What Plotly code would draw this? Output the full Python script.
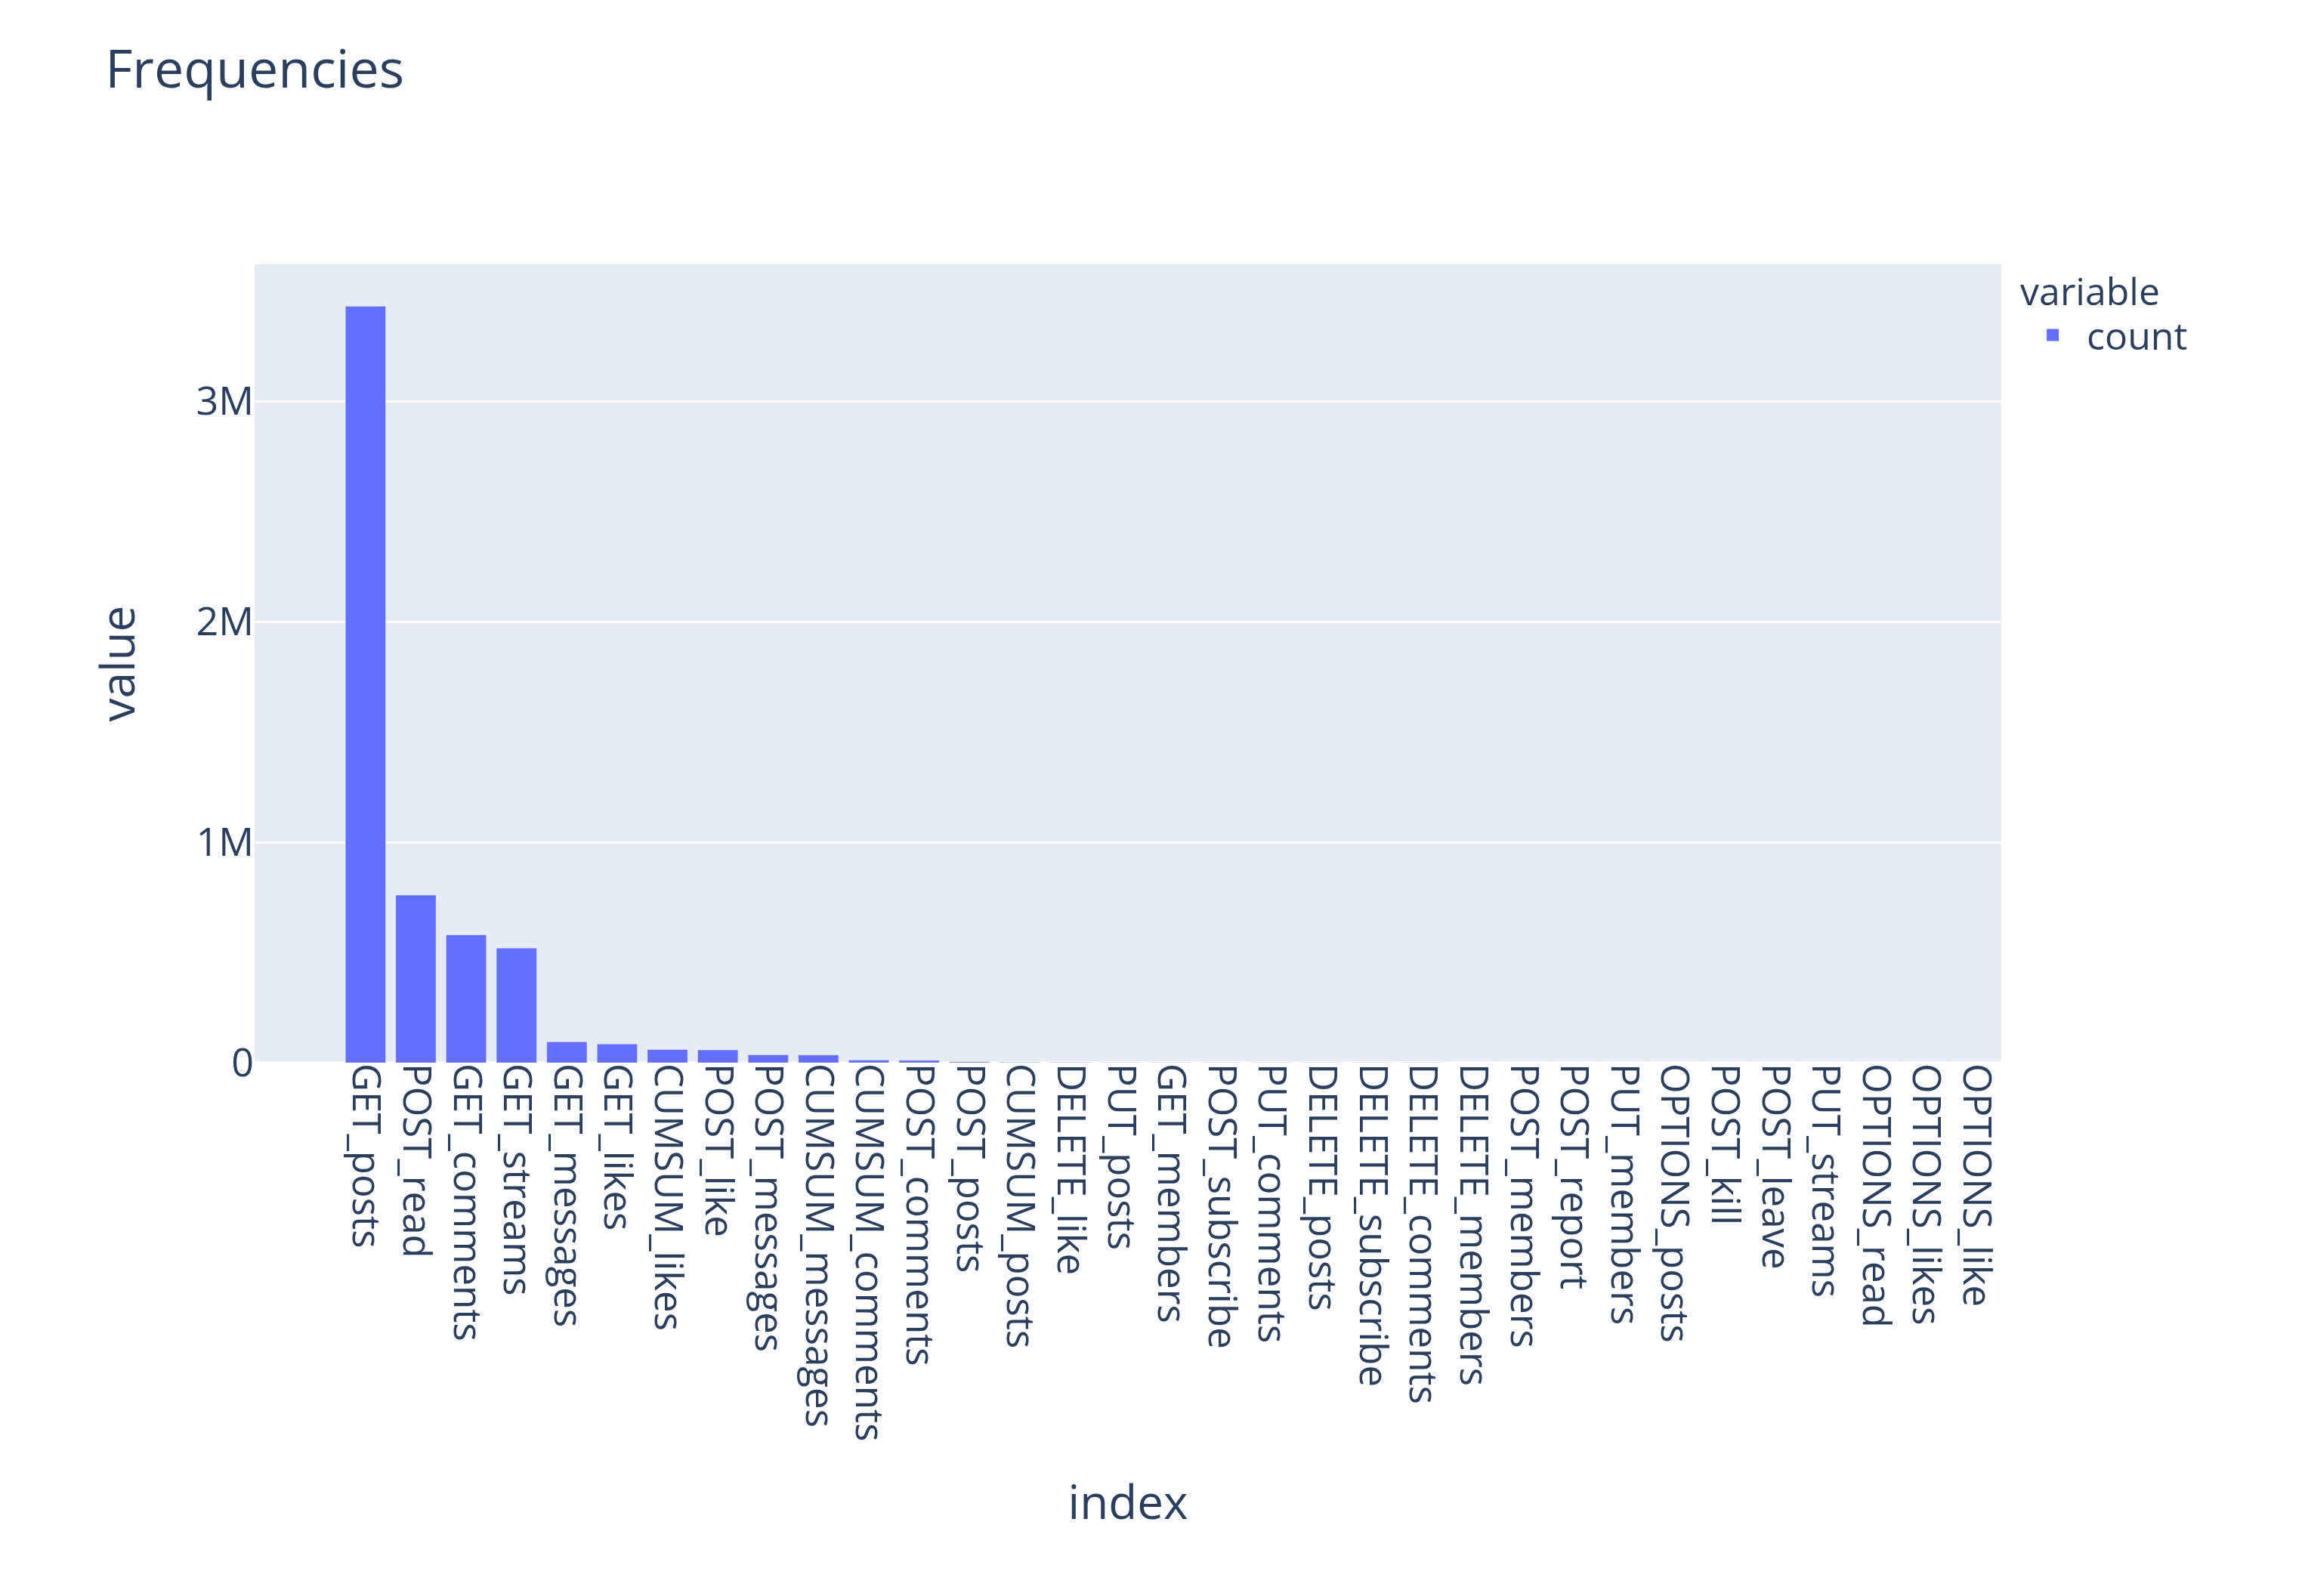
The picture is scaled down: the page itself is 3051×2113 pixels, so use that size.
import plotly.graph_objects as go

categories = ["GET_posts","POST_read","GET_comments","GET_streams","GET_messages","GET_likes",
 "CUMSUM_likes","POST_like","POST_messages","CUMSUM_messages","CUMSUM_comments","POST_comments",
 "POST_posts","CUMSUM_posts","DELETE_like","PUT_posts","GET_members","POST_subscribe","PUT_comments",
 "DELETE_posts","DELETE_subscribe","DELETE_comments","DELETE_members","POST_members","POST_report",
 "PUT_members","OPTIONS_posts","POST_kill","POST_leave","PUT_streams","OPTIONS_read","OPTIONS_likes","OPTIONS_like"]
counts = [3430000,760000,580000,520000,95000,85000,60000,58000,36000,35000,12000,11000,
 4000,2500,1500,1200,1000,900,800,700,600,500,400,350,300,250,200,150,120,100,80,60,50]

F = "Open Sans, Noto Sans, sans-serif"
C = "#2a3f5f"
fig = go.Figure(go.Bar(x=categories, y=counts, name="count", marker_color="#636efa", showlegend=False))
fig.add_trace(go.Scatter(x=[categories[0]], y=[None], mode="markers", name="count",
                         marker=dict(symbol="square", size=50, color="#636efa")))
fig.update_layout(
    width=3051, height=2113,
    margin=dict(l=329, r=410, t=342, b=714),
    paper_bgcolor="white", plot_bgcolor="#e5ecf6",
    font=dict(family=F, color=C, size=50),
    title=dict(text="Frequencies", x=0.043, y=0.972, xanchor="left", yanchor="top", font=dict(size=70)),
    legend=dict(title=dict(text="variable", font=dict(size=50)), x=1.01, y=1.01, xanchor="left", yanchor="top",
                font=dict(size=50), itemsizing="trace", itemwidth=80, tracegroupgap=20),
    bargap=0.2,
)
fig.update_xaxes(title=dict(text="index", font=dict(size=62), standoff=60), tickangle=90,
                 tickfont=dict(size=51), showgrid=False)
fig.update_yaxes(title=dict(text="value", font=dict(size=62), standoff=60), tickfont=dict(size=52),
                 gridcolor="white", gridwidth=3, zeroline=True, zerolinecolor="white", zerolinewidth=4,
                 tickvals=[0,1e6,2e6,3e6], ticktext=["0","1M","2M","3M"], range=[0, 3.62e6])
fig.write_html("out.html")
